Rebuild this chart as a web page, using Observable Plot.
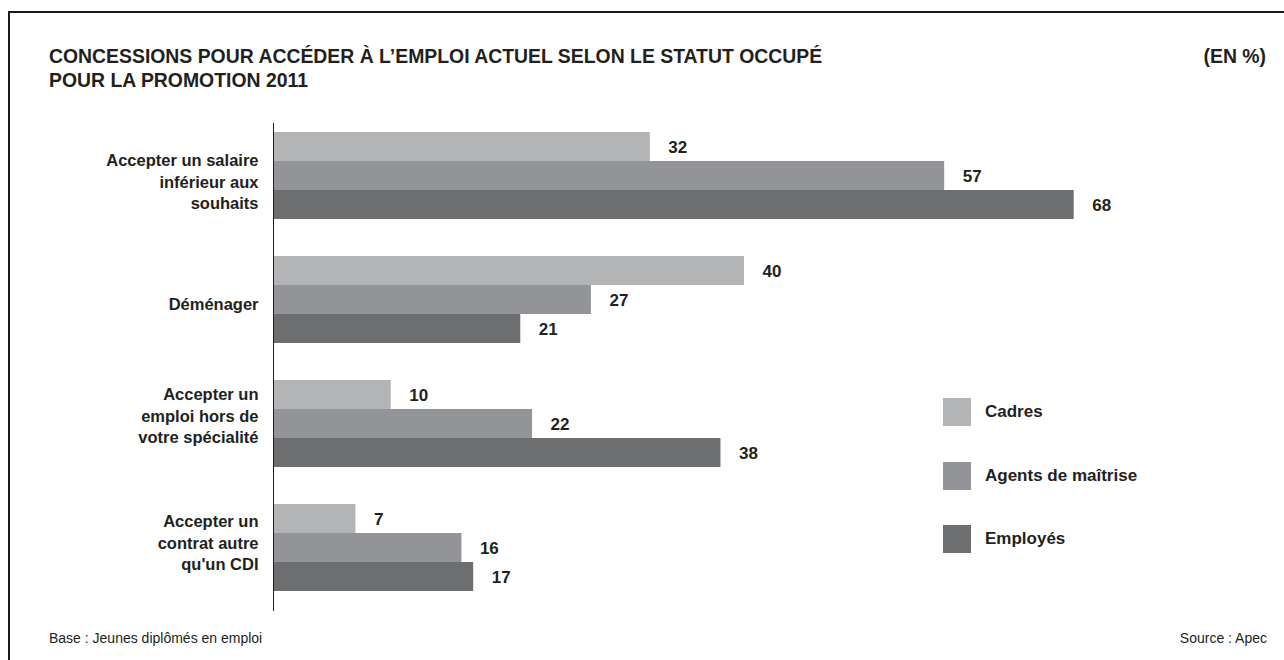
<!DOCTYPE html>
<html>
<head>
<meta charset="utf-8">
<script src="https://cdn.jsdelivr.net/npm/d3@7"></script>
<script src="https://cdn.jsdelivr.net/npm/@observablehq/plot@0.6"></script>
<style>
  html, body { margin: 0; padding: 0; background: #fff; }
  #wrap { position: relative; width: 1284px; height: 660px; overflow: hidden; font-family: "Liberation Sans", Arial, sans-serif; color: #231f20; }
  #frame { position: absolute; left: 8px; top: 11px; width: 1400px; height: 800px; border-top: 2px solid #1a1a1a; border-left: 2px solid #1a1a1a; }
  .title { position: absolute; left: 49px; top: 44px; font-weight: bold; font-size: 19.4px; line-height: 24px; white-space: nowrap; }
  .unit { position: absolute; right: 18px; top: 44px; font-weight: bold; font-size: 19.4px; line-height: 24px; }
  #chart { position: absolute; left: 0; top: 123px; }
  .legend-item { position: absolute; left: 943px; height: 28px; display: flex; align-items: center; font-weight: bold; font-size: 17px; white-space: nowrap; }
  .legend-item .sw { width: 28px; height: 28px; margin-right: 14px; }
  .foot { position: absolute; top: 629px; font-size: 14px; line-height: 18px; white-space: nowrap; }
</style>
</head>
<body>
<div id="wrap">
  <div id="frame"></div>
  <div class="title">CONCESSIONS POUR ACCÉDER À L’EMPLOI ACTUEL SELON LE STATUT OCCUPÉ<br>POUR LA PROMOTION 2011</div>
  <div class="unit">(EN %)</div>
  <div id="chart"></div>
  <div id="legend"></div>
  <div class="foot" style="left:49px;">Base : Jeunes diplômés en emploi</div>
  <div class="foot" style="right:17px;">Source : Apec</div>
</div>
<script>
// ---- Data ----
const categories = [
  "Accepter un salaire inférieur aux souhaits",
  "Déménager",
  "Accepter un emploi hors de votre spécialité",
  "Accepter un contrat autre qu'un CDI"
];
const categoryLabels = [
  "Accepter un salaire\ninférieur aux\nsouhaits",
  "Déménager",
  "Accepter un\nemploi hors de\nvotre spécialité",
  "Accepter un\ncontrat autre\nqu'un CDI"
];
const series = ["Cadres", "Agents de maîtrise", "Employés"];
const cadres = [32, 40, 10, 7];
const agents = [57, 27, 22, 16];
const employes = [68, 21, 38, 17];
const seriesColors = ["#b3b4b6", "#939497", "#6d6e70"];

// ---- Build table ----
const seriesValues = [cadres, agents, employes];
const rows = [];
series.forEach((s, j) => {
  categories.forEach((c, i) => rows.push({category: c, series: s, value: seriesValues[j][i], j}));
});

// ---- Layout ----
const W = 1284, H = 488, mTop = 8, mBottom = 19, mLeft = 273, mRight = 69;
const barH = 29;
const labelShift = [5, 3, -9, -6]; // small vertical nudges of category labels, as in the original layout
const textColor = "#231f20";

const marks = [];
series.forEach((s, j) => {
  const d = rows.filter(r => r.j === j);
  marks.push(Plot.barX(d, {
    x: "value", y: "category", fill: seriesColors[j],
    insetTop: j * barH, insetBottom: (2 - j) * barH
  }));
  marks.push(Plot.text(d, {
    x: "value", y: "category", text: r => String(r.value),
    dx: 18, dy: (j - 1) * barH + 1, textAnchor: "start",
    fontWeight: "bold", fontSize: 17, fill: textColor
  }));
});
categories.forEach((c, i) => {
  marks.push(Plot.text([c], {
    y: d => d, text: () => categoryLabels[i], frameAnchor: "left",
    dx: -15, dy: labelShift[i], textAnchor: "end", fontWeight: "bold", fontSize: 16.5, lineHeight: 1.3, fill: textColor
  }));
});
marks.push(Plot.ruleX([0], {stroke: textColor, strokeWidth: 1, insetTop: -mTop, insetBottom: -mBottom}));

const plot = Plot.plot({
  width: W, height: H,
  marginTop: mTop, marginBottom: mBottom, marginLeft: mLeft, marginRight: mRight,
  x: {domain: [0, 80], axis: null},
  y: {domain: categories, paddingInner: 0.302, paddingOuter: 0, axis: null},
  style: {fontFamily: "Liberation Sans, Arial, sans-serif", background: "transparent", overflow: "visible", color: textColor},
  marks
});
document.getElementById("chart").appendChild(plot);

// ---- Legend ----
const legendTops = [398, 462, 525];
const legend = document.getElementById("legend");
series.forEach((s, j) => {
  const item = document.createElement("div");
  item.className = "legend-item";
  item.style.top = legendTops[j] + "px";
  const sw = document.createElement("div");
  sw.className = "sw";
  sw.style.background = seriesColors[j];
  const lab = document.createElement("span");
  lab.textContent = s;
  item.appendChild(sw);
  item.appendChild(lab);
  legend.appendChild(item);
});
</script>
</body>
</html>
